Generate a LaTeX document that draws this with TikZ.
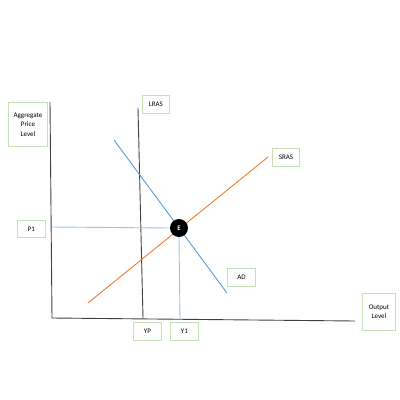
\documentclass[tikz,border=0pt]{standalone}
\usepackage{fontspec}
\setmainfont{Carlito}
\definecolor{boxgreen}{HTML}{C5E0B4}
\definecolor{adblue}{HTML}{5B9BD5}
\definecolor{guideblue}{HTML}{9DC3E6}
\definecolor{srasor}{HTML}{ED7D31}
\definecolor{axisgray}{HTML}{404040}
\begin{document}
\begin{tikzpicture}[x=1pt,y=-1pt,
  lbl/.style={draw=boxgreen, line width=0.9pt, fill=white, font=\fontsize{7}{9.5}\selectfont, align=center, inner sep=0pt, anchor=north west},
  axis/.style={draw=axisgray, line width=0.9pt},
  adline/.style={draw=adblue, line width=0.9pt},
  guide/.style={draw=guideblue, line width=0.9pt},
  srasline/.style={draw=srasor, line width=0.9pt}]
\useasboundingbox (0,0) rectangle (400,400);
% axes
\coordinate (ytop) at (50,102);
\coordinate (orig) at (52,318);
\coordinate (xend) at (355,321);
\draw[axis] (ytop) -- (orig) -- (xend);
% LRAS
\coordinate (lt) at (138,108);
\coordinate (lb) at (143,318);
\draw[axis] (lt) -- (lb);
% SRAS
\coordinate (s1) at (88,303);
\coordinate (s2) at (268,157);
\draw[srasline] (s1) -- (s2);
% AD
\coordinate (a1) at (114,140);
\coordinate (a2) at (227,293);
\draw[adline] (a1) -- (a2);
% equilibrium
\node[circle, fill=black, minimum size=18pt, inner sep=0pt, text=white, font=\fontsize{7}{7}\selectfont\bfseries] (E) at (179,228) {E};
\coordinate (p1y) at (52,227);
\coordinate (y1x) at (180,319);
\draw[guide] (p1y) -- (E.west);
\draw[guide] (E.south) -- (y1x);
% labels
\node[lbl, minimum width=39pt, minimum height=44pt] (apl) at (8,102) {Aggregate\\Price\\Level};
\node[lbl, minimum width=27pt, minimum height=18pt] (lras) at (142,95) {LRAS};
\node[lbl, minimum width=27pt, minimum height=18pt] (sras) at (272,148) {SRAS};
\node[lbl, minimum width=28pt, minimum height=17pt] (p1) at (17,220) {P1};
\node[lbl, minimum width=28pt, minimum height=18pt] (ad) at (227,268) {AD};
\node[lbl, minimum width=28pt, minimum height=18pt] (yp) at (133,322) {YP};
\node[lbl, minimum width=28pt, minimum height=18pt] (y1) at (170,322) {Y1};
\node[lbl, minimum width=33pt, minimum height=37pt] (out) at (362,293) {Output\\Level};
\end{tikzpicture}
\end{document}
